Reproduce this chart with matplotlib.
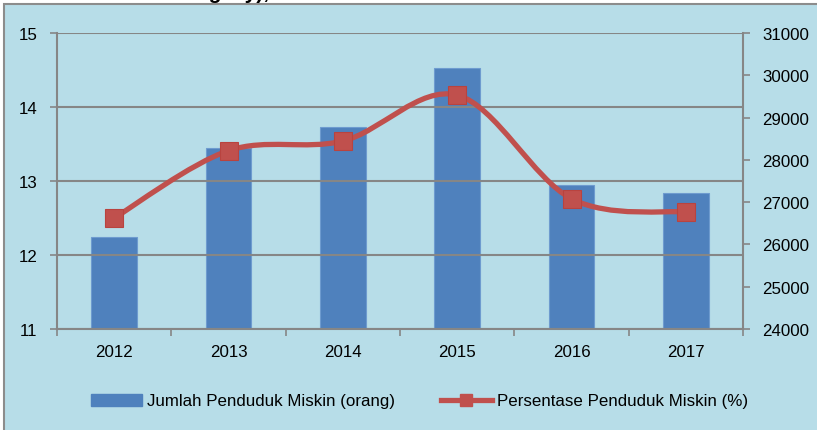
import matplotlib

matplotlib.use("Agg")

import matplotlib.pyplot as plt
from matplotlib.lines import Line2D
from matplotlib.patches import Patch, Rectangle, PathPatch
from matplotlib.path import Path

years = ["2012", "2013", "2014", "2015", "2016", "2017"]
jumlah = [26170, 28280, 28770, 30165, 27410, 27210]
persen = [12.50, 13.41, 13.54, 14.16, 12.76, 12.58]

BAR = "#4F81BD"
LINE = "#C0504D"
BG = "#B7DDE8"
GRID = "#868686"

plt.rcParams["font.family"] = ["Liberation Sans", "DejaVu Sans"]
plt.rcParams["font.size"] = 12.2

fig = plt.figure(figsize=(8.17, 4.31), dpi=100, facecolor="white")
fig.patches.append(Rectangle((4 / 817, -0.01), 1.0, 1 - 5 / 431 + 0.01,
                             transform=fig.transFigure, facecolor=BG,
                             edgecolor="#8C8C8C", linewidth=1.5, zorder=0))
# cut-off title fragment at the very top
fig.text(197 / 817, 1 + 1 / 431, "ngkay),", fontsize=15, fontweight="bold",
         va="baseline", ha="left")

ax = fig.add_axes([57 / 817, 1 - 330 / 431, 686 / 817, 296 / 431])
ax2 = ax.twinx()
ax.patch.set_visible(False)
ax2.patch.set_visible(False)
ax.set_zorder(2)
ax2.set_zorder(1)

x = list(range(len(years)))

# bars: number of poor people (right axis)
ax2.bar(x, jumlah, width=0.4, color=BAR, edgecolor="#6E9BCF", linewidth=0.8,
        zorder=2)
ax2.set_ylim(24000, 31000)
ax2.set_yticks(range(24000, 31001, 1000))

# smoothed line (left axis), Bezier through the data points
pts = list(zip(x, persen))
verts = [pts[0]]
codes = [Path.MOVETO]
for i in range(len(pts) - 1):
    p0 = pts[max(i - 1, 0)]
    p1 = pts[i]
    p2 = pts[i + 1]
    p3 = pts[min(i + 2, len(pts) - 1)]
    c1 = (p1[0] + (p2[0] - p0[0]) / 6, p1[1] + (p2[1] - p0[1]) / 6)
    c2 = (p2[0] - (p3[0] - p1[0]) / 6, p2[1] - (p3[1] - p1[1]) / 6)
    verts += [c1, c2, p2]
    codes += [Path.CURVE4] * 3
ax.add_patch(PathPatch(Path(verts, codes), facecolor="none", edgecolor=LINE,
                       linewidth=3.8, capstyle="round", zorder=3))
ax.plot(x, persen, linestyle="none", marker="s", markersize=13.5,
        color=LINE, markeredgecolor="#B9433F", markeredgewidth=0.8, zorder=4)

ax.set_ylim(11, 15)
ax.set_yticks([11, 12, 13, 14, 15])
ax.set_xlim(-0.5, 5.5)
ax.yaxis.grid(True, color=GRID, linewidth=1.5)
ax.set_axisbelow(True)

ax.set_xticks(x)
ax.set_xticklabels(years)
ax.set_xticks([i - 0.5 for i in range(len(years) + 1)], minor=True)
ax.tick_params(axis="x", which="major", length=0, pad=11)
ax.tick_params(axis="x", which="minor", length=5, width=1.2, color=GRID)
ax.tick_params(axis="y", length=5, width=1.2, color=GRID, pad=9)
ax2.tick_params(axis="y", length=5, width=1.2, color=GRID, pad=9)

for a in (ax, ax2):
    a.spines["top"].set_visible(False)
    for side in ("left", "right", "bottom"):
        a.spines[side].set_color(GRID)
        a.spines[side].set_linewidth(1.5)
ax.spines["right"].set_visible(False)
ax2.spines["left"].set_visible(False)
ax2.spines["bottom"].set_visible(False)

handles = [
    Patch(facecolor=BAR, edgecolor=BAR, label="Jumlah Penduduk Miskin (orang)"),
    Line2D([], [], color=LINE, linewidth=3.8, marker="s", markersize=9,
           label="Persentase Penduduk Miskin (%)"),
]
fig.legend(handles=handles, loc="center",
           bbox_to_anchor=(0.5 + 11 / 817, 1 - 402 / 431),
           ncol=2, frameon=False, handlelength=3.0, handletextpad=0.3,
           columnspacing=2.7, fontsize=12.2)

fig.savefig("out.png", dpi=100, facecolor="white")
